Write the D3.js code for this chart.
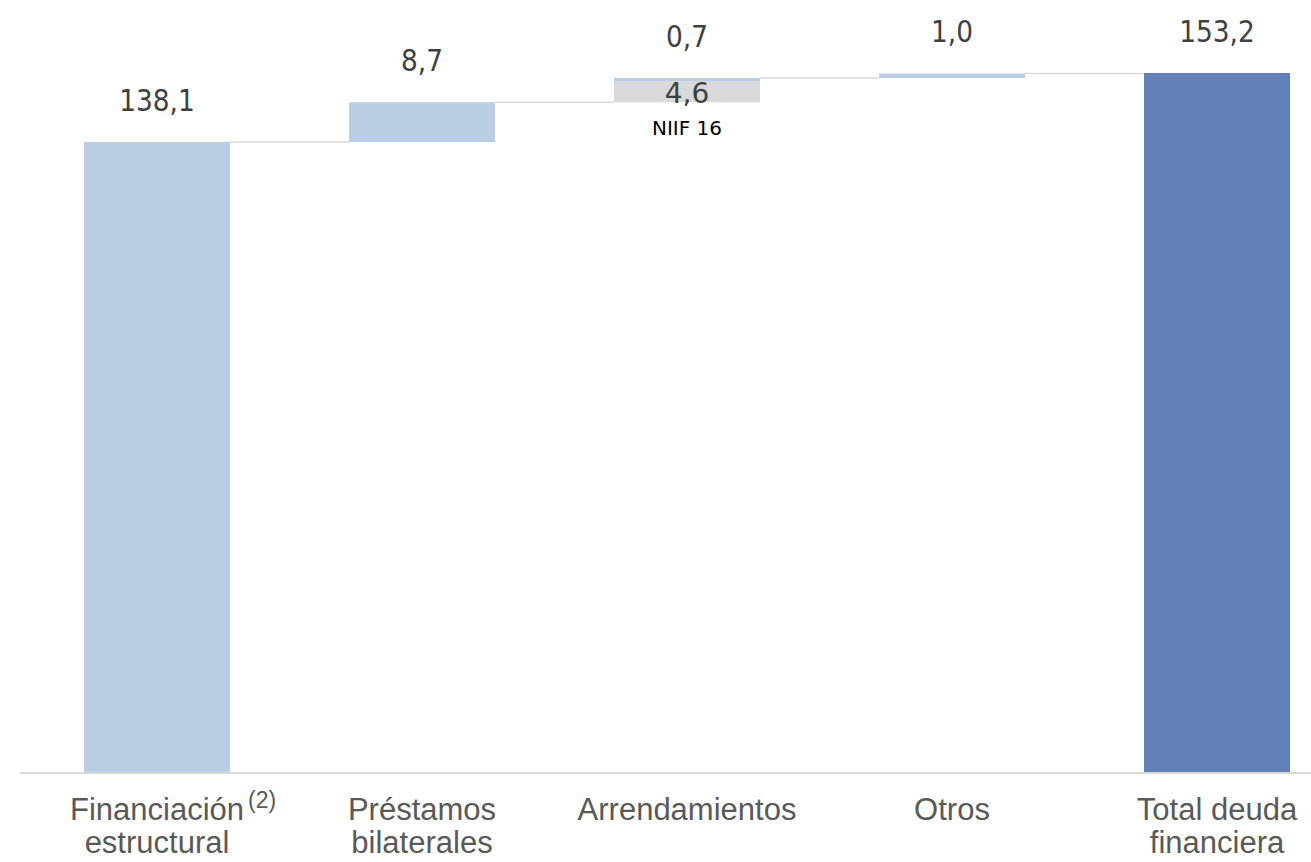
<!DOCTYPE html>
<html>
<head>
<meta charset="utf-8">
<script src="https://cdn.jsdelivr.net/npm/d3@7"></script>
<style>
  body { margin: 0; background: #fff; }
  svg { display: block; }
</style>
</head>
<body>
<div id="chart"></div>
<script>
var svgWidth = 1311;
var svgHeight = 862;

// Data (billions)
var categories = ["Financiación estructural", "Préstamos bilaterales", "Arrendamientos", "Otros", "Total deuda financiera"];
var labelLines = [["Financiación", "estructural"], ["Préstamos", "bilaterales"], ["Arrendamientos"], ["Otros"], ["Total deuda", "financiera"]];
var steps = [138.1, 8.7, 0.7, 1.0, 153.2];       // blue part of each bar
var niifSteps = [0, 0, 4.6, 0, 0];                 // grey NIIF 16 part
var isTotal = [false, false, false, false, true];
var valueLabels = ["138,1", "8,7", "0,7", "1,0", "153,2"];
var niifLabels = ["", "", "4,6", "", ""];

var margin = { top: 73, bottom: 89, left: 20 };
var baseY = svgHeight - margin.bottom;

var svg = d3.select("#chart")
    .append("svg")
    .attr("width", svgWidth)
    .attr("height", svgHeight);

// Build waterfall segments
var running = 0;
var bars = categories.map(function (c, i) {
    var d = { cat: c, i: i };
    if (isTotal[i]) {
        d.greyLo = 0; d.greyHi = 0;
        d.lo = 0; d.hi = steps[i];
        running = steps[i];
    } else {
        d.greyLo = running;
        d.greyHi = running + niifSteps[i];
        d.lo = d.greyHi;
        d.hi = d.lo + steps[i];
        running = d.hi;
    }
    return d;
});

var x = d3.scaleBand()
    .domain(categories)
    .range([margin.left, 1354])
    .paddingInner(0.449)
    .paddingOuter(0.2415);

var y = d3.scaleLinear()
    .domain([0, d3.max(bars, d => d.hi)])
    .range([baseY, margin.top]);

// connector lines
var links = bars.slice(0, -1).map(function (d, i) {
    return { x1: x(d.cat) + x.bandwidth(), x2: x(bars[i + 1].cat), v: d.hi };
});
svg.append("g").selectAll("line")
    .data(links)
    .enter()
    .append("line")
    .attr("x1", d => d.x1)
    .attr("x2", d => d.x2)
    .attr("y1", d => y(d.v))
    .attr("y2", d => y(d.v))
    .attr("stroke", "#d9d9d9")
    .attr("stroke-width", 1.5);

// grey NIIF segments
svg.append("g").selectAll("rect")
    .data(bars.filter(d => d.greyHi > d.greyLo))
    .enter()
    .append("rect")
    .attr("x", d => x(d.cat))
    .attr("width", x.bandwidth())
    .attr("y", d => y(d.greyHi))
    .attr("height", d => y(d.greyLo) - y(d.greyHi))
    .attr("fill", "#d9d9d9");

// blue segments
svg.append("g").selectAll("rect")
    .data(bars)
    .enter()
    .append("rect")
    .attr("x", d => x(d.cat))
    .attr("width", x.bandwidth())
    .attr("y", d => y(d.hi))
    .attr("height", d => y(d.lo) - y(d.hi))
    .attr("fill", d => isTotal[d.i] ? "#6180b8" : "#b9cde5");

// baseline
svg.append("line")
    .attr("x1", margin.left)
    .attr("x2", svgWidth)
    .attr("y1", baseY)
    .attr("y2", baseY)
    .attr("stroke", "#d9d9d9")
    .attr("stroke-width", 2);

// value labels (font looks a bit narrow in the source, squeeze it)
svg.append("g").selectAll("text")
    .data(bars)
    .enter()
    .append("text")
    .attr("transform", d => `translate(${x(d.cat) + x.bandwidth() / 2}, ${y(d.hi) - 31}) scale(0.88, 1)`)
    .attr("text-anchor", "middle")
    .attr("font-family", "DejaVu Sans, Verdana, sans-serif")
    .attr("font-size", 30)
    .attr("fill", "#404040")
    .text(d => valueLabels[d.i]);

// NIIF 16 label inside grey segment
var niifBars = bars.filter(d => niifLabels[d.i] !== "");
svg.append("g").selectAll("text")
    .data(niifBars)
    .enter()
    .append("text")
    .attr("x", d => x(d.cat) + x.bandwidth() / 2)
    .attr("y", d => (y(d.greyLo) + y(d.greyHi)) / 2 + 11)
    .attr("text-anchor", "middle")
    .attr("font-family", "DejaVu Sans, Verdana, sans-serif")
    .attr("font-size", 28)
    .attr("fill", "#404040")
    .text(d => niifLabels[d.i]);

svg.append("g").selectAll("text")
    .data(niifBars)
    .enter()
    .append("text")
    .attr("x", d => x(d.cat) + x.bandwidth() / 2)
    .attr("y", d => y(d.greyLo) + 33)
    .attr("text-anchor", "middle")
    .attr("font-family", "DejaVu Sans, Verdana, sans-serif")
    .attr("font-size", 20)
    .attr("fill", "#000")
    .text("NIIF 16");

// category labels
var catGroup = svg.append("g")
    .attr("font-family", "Liberation Sans, Arial, sans-serif")
    .attr("font-size", 31)
    .attr("fill", "#595959");

labelLines.forEach(function (lines, i) {
    var cx = x(categories[i]) + x.bandwidth() / 2;
    lines.forEach(function (ln, j) {
        var t = catGroup.append("text")
            .attr("x", cx)
            .attr("y", baseY + 47 + j * 33)
            .attr("text-anchor", "middle")
            .text(ln);
        // footnote marker on the first category
        if (i === 0 && j === 0) {
            var w = t.node().getComputedTextLength();
            catGroup.append("text")
                .attr("x", cx + w / 2 + 4)
                .attr("y", baseY + 35)
                .attr("font-size", 23)
                .text("(2)");
        }
    });
});
</script>
</body>
</html>
